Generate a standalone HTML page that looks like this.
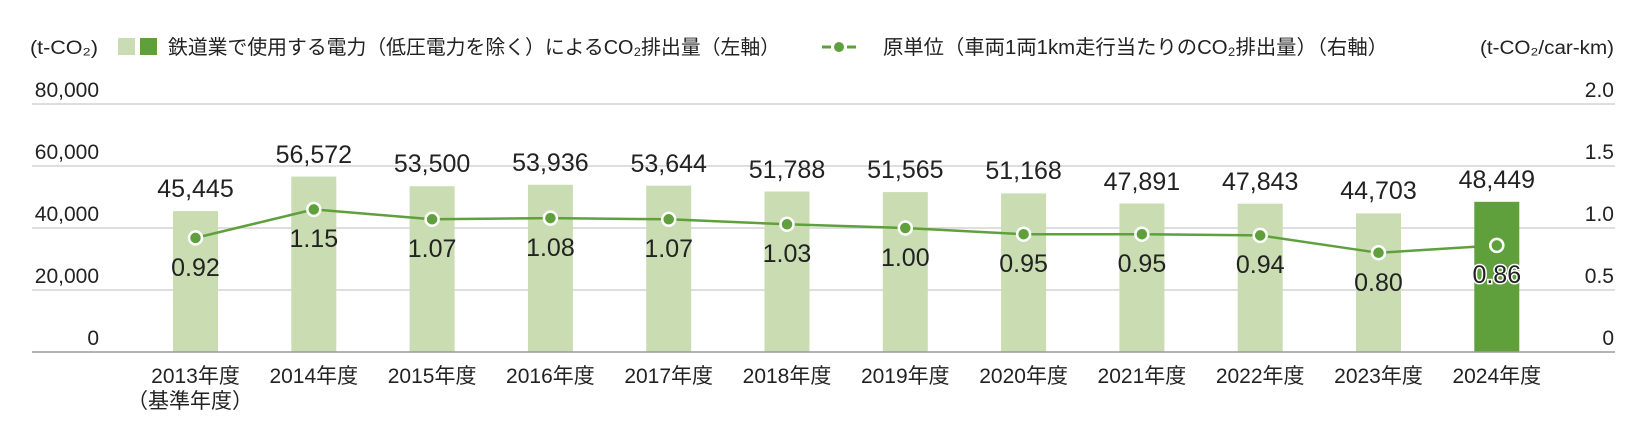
<!DOCTYPE html>
<html><head><meta charset="utf-8"><style>
html,body{margin:0;padding:0;background:#fff}
svg{display:block}
text{font-family:"Liberation Sans","Noto Sans CJK JP",sans-serif;fill:#222}
</style></head><body>
<svg width="1650" height="446" viewBox="0 0 1650 446" xmlns="http://www.w3.org/2000/svg">
<!-- legend -->
<text x="30" y="54" font-size="19" textLength="68" lengthAdjust="spacingAndGlyphs">(t-CO₂)</text>
<rect x="118" y="38" width="17" height="17" fill="#c9dcb2"/>
<rect x="140" y="38" width="17" height="17" fill="#5fa03c"/>
<text x="168" y="54" font-size="20" textLength="612" lengthAdjust="spacingAndGlyphs">鉄道業で使用する電力（低圧電力を除く）によるCO₂排出量（左軸）</text>
<line x1="822" y1="47" x2="856" y2="47" stroke="#5fa03c" stroke-width="3" stroke-dasharray="9 5 6 5 9"/>
<circle cx="839" cy="47" r="6" fill="#5fa03c" stroke="#fff" stroke-width="2"/>
<text x="883" y="54" font-size="20" textLength="505" lengthAdjust="spacingAndGlyphs">原単位（車両1両1km走行当たりのCO₂排出量）（右軸）</text>
<text x="1614" y="54" font-size="19" text-anchor="end" textLength="134" lengthAdjust="spacingAndGlyphs">(t-CO₂/car-km)</text>
<!-- grid -->
<g stroke="#d4d4d4" stroke-width="1.5">
<line x1="32" y1="104" x2="1615" y2="104"/>
<line x1="32" y1="166" x2="1615" y2="166"/>
<line x1="32" y1="228" x2="1615" y2="228"/>
<line x1="32" y1="290" x2="1615" y2="290"/>
</g>
<g font-size="21">
<text x="99" y="97" text-anchor="end">80,000</text>
<text x="99" y="159" text-anchor="end">60,000</text>
<text x="99" y="221" text-anchor="end">40,000</text>
<text x="99" y="283" text-anchor="end">20,000</text>
<text x="99" y="345" text-anchor="end">0</text>
<text x="1614" y="97" text-anchor="end">2.0</text>
<text x="1614" y="159" text-anchor="end">1.5</text>
<text x="1614" y="221" text-anchor="end">1.0</text>
<text x="1614" y="283" text-anchor="end">0.5</text>
<text x="1614" y="345" text-anchor="end">0</text>
</g>
<!-- bars -->
<g fill="#c9dcb2">
<rect x="173" y="211.1" width="45" height="140.9"/>
<rect x="291.3" y="176.6" width="45" height="175.4"/>
<rect x="409.6" y="186.2" width="45" height="165.8"/>
<rect x="527.9" y="184.8" width="45" height="167.2"/>
<rect x="646.2" y="185.7" width="45" height="166.3"/>
<rect x="764.5" y="191.5" width="45" height="160.5"/>
<rect x="882.8" y="192.1" width="45" height="159.9"/>
<rect x="1001.1" y="193.4" width="45" height="158.6"/>
<rect x="1119.4" y="203.5" width="45" height="148.5"/>
<rect x="1237.7" y="203.7" width="45" height="148.3"/>
<rect x="1356" y="213.4" width="45" height="138.6"/>
</g>
<rect x="1474.3" y="201.8" width="45" height="150.2" fill="#5fa03c"/>
<line x1="32" y1="352" x2="1615" y2="352" stroke="#9a9a9a" stroke-width="1.5"/>
<!-- bar labels -->
<g font-size="25" text-anchor="middle">
<text x="195.5" y="197">45,445</text>
<text x="313.8" y="163">56,572</text>
<text x="432.1" y="172">53,500</text>
<text x="550.4" y="171">53,936</text>
<text x="668.7" y="172">53,644</text>
<text x="787" y="178">51,788</text>
<text x="905.3" y="178">51,565</text>
<text x="1023.6" y="179">51,168</text>
<text x="1141.9" y="190">47,891</text>
<text x="1260.2" y="190">47,843</text>
<text x="1378.5" y="199">44,703</text>
<text x="1496.8" y="188">48,449</text>
</g>
<!-- line -->
<polyline fill="none" stroke="#5fa03c" stroke-width="2.5" points="195.5,237.9 313.8,209.4 432.1,219.3 550.4,218.1 668.7,219.3 787,224.3 905.3,228 1023.6,234.2 1141.9,234.2 1260.2,235.4 1378.5,252.8 1496.8,245.4"/>
<g fill="#5fa03c" stroke="#fff" stroke-width="2.5">
<circle cx="195.5" cy="237.9" r="6.5"/><circle cx="313.8" cy="209.4" r="6.5"/>
<circle cx="432.1" cy="219.3" r="6.5"/><circle cx="550.4" cy="218.1" r="6.5"/>
<circle cx="668.7" cy="219.3" r="6.5"/><circle cx="787" cy="224.3" r="6.5"/>
<circle cx="905.3" cy="228" r="6.5"/><circle cx="1023.6" cy="234.2" r="6.5"/>
<circle cx="1141.9" cy="234.2" r="6.5"/><circle cx="1260.2" cy="235.4" r="6.5"/>
<circle cx="1378.5" cy="252.8" r="6.5"/><circle cx="1496.8" cy="245.4" r="6.5"/>
</g>
<g font-size="25" text-anchor="middle">
<text x="195.5" y="276">0.92</text>
<text x="313.8" y="247">1.15</text>
<text x="432.1" y="257">1.07</text>
<text x="550.4" y="256">1.08</text>
<text x="668.7" y="257">1.07</text>
<text x="787" y="262">1.03</text>
<text x="905.3" y="266">1.00</text>
<text x="1023.6" y="272">0.95</text>
<text x="1141.9" y="272">0.95</text>
<text x="1260.2" y="273">0.94</text>
<text x="1378.5" y="291">0.80</text>
<text x="1496.8" y="283" stroke="#fff" stroke-width="3" paint-order="stroke">0.86</text>
</g>
<!-- x labels -->
<g font-size="21" text-anchor="middle">
<text x="195.5" y="383">2013年度</text>
<text x="313.8" y="383">2014年度</text>
<text x="432.1" y="383">2015年度</text>
<text x="550.4" y="383">2016年度</text>
<text x="668.7" y="383">2017年度</text>
<text x="787" y="383">2018年度</text>
<text x="905.3" y="383">2019年度</text>
<text x="1023.6" y="383">2020年度</text>
<text x="1141.9" y="383">2021年度</text>
<text x="1260.2" y="383">2022年度</text>
<text x="1378.5" y="383">2023年度</text>
<text x="1496.8" y="383">2024年度</text>
<text x="190" y="408">（基準年度）</text>
</g>
</svg>
</body></html>
